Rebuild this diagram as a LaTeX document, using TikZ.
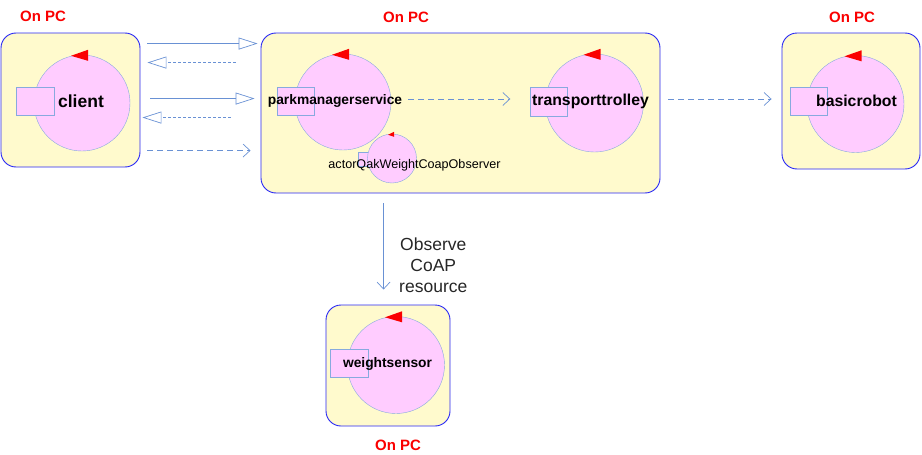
\documentclass[tikz,border=0pt]{standalone}
\usepackage{fontspec}
\setmainfont{Liberation Sans}
\usetikzlibrary{arrows.meta,calc}

\definecolor{boxfill}{RGB}{255,250,205}
\definecolor{boxline}{RGB}{40,40,245}
\definecolor{actorfill}{RGB}{255,204,255}
\definecolor{actorline}{RGB}{135,170,222}
\definecolor{msgline}{RGB}{105,145,212}
\definecolor{pcred}{RGB}{250,0,0}

\begin{document}
\begin{tikzpicture}[x=1pt, y=-1pt,
    pcbox/.style={draw=boxline, fill=boxfill, rounded corners=15pt, line width=0.9pt},
    actor/.style={circle, draw=actorline, fill=actorfill, inner sep=0pt},
    actorport/.style={rectangle, draw=actorline, fill=actorfill, inner sep=0pt},
    actorname/.style={font=\fontsize{14}{16}\selectfont\bfseries, inner sep=0pt},
    onpc/.style={text=pcred, font=\fontsize{15}{17}\selectfont\bfseries, inner sep=0pt},
    request/.style={draw=msgline, line width=0.7pt, -{Triangle[open, length=19pt, width=12pt]}},
    reply/.style={draw=msgline, line width=0.7pt, dash pattern=on 3pt off 2pt, -{Triangle[open, length=19pt, width=12pt]}},
    dispatch/.style={draw=msgline, line width=0.7pt, dash pattern=on 6pt off 4pt, -{Straight Barb[length=7pt, width=13pt]}}]
        \useasboundingbox (0,0) rectangle (922,455);

        % contexts
        \node[pcbox, minimum width=139pt, minimum height=134pt] (clibox) at (70.5,100) {};
        \node[pcbox, minimum width=399pt, minimum height=160pt] (pcbox) at (460.5,113) {};
        \node[pcbox, minimum width=138pt, minimum height=136pt] (brbox) at (851,101) {};
        \node[pcbox, minimum width=124pt, minimum height=121pt] (wsbox) at (388,365.5) {};

        \node[onpc] (clipc) at (43,16) {On PC};
        \node[onpc] (pcpc) at (406,17) {On PC};
        \node[onpc] (brpc) at (852,17) {On PC};
        \node[onpc] (wspc) at (398,445) {On PC};

        % actors
        \node[actor, minimum size=96pt] (cli) at (82,103) {};
        \node[actor, minimum size=96pt] (pms) at (343,102) {};
        \node[actorport, minimum width=19pt, minimum height=14pt] (obsport) at (367.5,159) {};
        \node[actor, minimum size=49pt] (obs) at (392,158.5) {};
        \node[actor, minimum size=98pt] (tt) at (594.5,103) {};
        \node[actor, minimum size=97pt] (br) at (855.5,104) {};
        \node[actor, minimum size=97pt] (ws) at (396,365) {};

        \node[actorport, minimum width=38pt, minimum height=28pt] (cliport) at (35,101) {};
        \node[actorport, minimum width=37pt, minimum height=28pt] (pmsport) at (295.5,101) {};
        \node[actorport, minimum width=37pt, minimum height=29pt] (ttport) at (548.5,101.5) {};
        \node[actorport, minimum width=37pt, minimum height=28pt] (brport) at (808.5,101) {};
        \node[actorport, minimum width=38pt, minimum height=28pt] (wsport) at (349,363) {};

        % running marks
        \foreach \a in {cli,pms,tt,br,ws}
            \fill[pcred] ($(\a.north)+(-11,1)$) -- ($(\a.north)+(6,-5)$) -- ($(\a.north)+(6,6)$) -- cycle;
        \fill[pcred] ($(obs.north)+(-4,1)$) -- ($(obs.north)+(2,-2)$) -- ($(obs.north)+(2,3)$) -- cycle;

        % names
        \node[actorname, font=\fontsize{17.5}{19}\selectfont\bfseries] (cliname) at (81,101) {client};
        \node[actorname, font=\fontsize{13.8}{16}\selectfont\bfseries] (pmsname) at (335,101) {parkmanagerservice};
        \node[actorname, font=\fontsize{15.8}{18}\selectfont\bfseries] (ttname) at (590.5,101) {transporttrolley};
        \node[actorname, font=\fontsize{15.8}{18}\selectfont\bfseries] (brname) at (856.5,101) {basicrobot};
        \node[actorname, font=\fontsize{13.8}{16}\selectfont\bfseries] (wsname) at (387.5,364) {weightsensor};
        \node[inner sep=0pt, font=\fontsize{12.6}{14}\selectfont] (obsname) at (414.5,165) {actorQakWeightCoapObserver};

        % messages
        \draw[request] ($(clibox.north east)+(7,11)$) -- ($(pcbox.north west)+(-3,11)$);
        \draw[reply] ($(pcbox.north west)+(-25,30)$) -- ($(clibox.north east)+(7,30)$);
        \draw[request] ($(clibox.north east)+(10,66)$) -- ($(pcbox.north west)+(-6,66)$);
        \draw[reply] ($(pcbox.north west)+(-30,85)$) -- ($(clibox.north east)+(2,85)$);
        \draw[dispatch] ($(clibox.north east)+(7,118)$) -- ($(pcbox.north west)+(-10,118)$);
        \draw[dispatch] ($(pms.east)+(17,-3)$) -- ($(tt.west)+(-35,-4)$);
        \draw[dispatch] ($(pcbox.east)+(8,-14)$) -- ($(brbox.west)+(-10,-2)$);
        \draw[draw=msgline, line width=0.7pt, -{Straight Barb[length=7pt, width=13pt]}] ($(pcbox.south west)+(123,10)$) -- ($(wsbox.north west)+(58,-15)$)
            node[midway, right=12pt, align=center, text=black!85, font=\fontsize{17.5}{21}\selectfont, yshift=-19pt] (obslabel) {Observe\\CoAP\\resource};
\end{tikzpicture}
\end{document}
